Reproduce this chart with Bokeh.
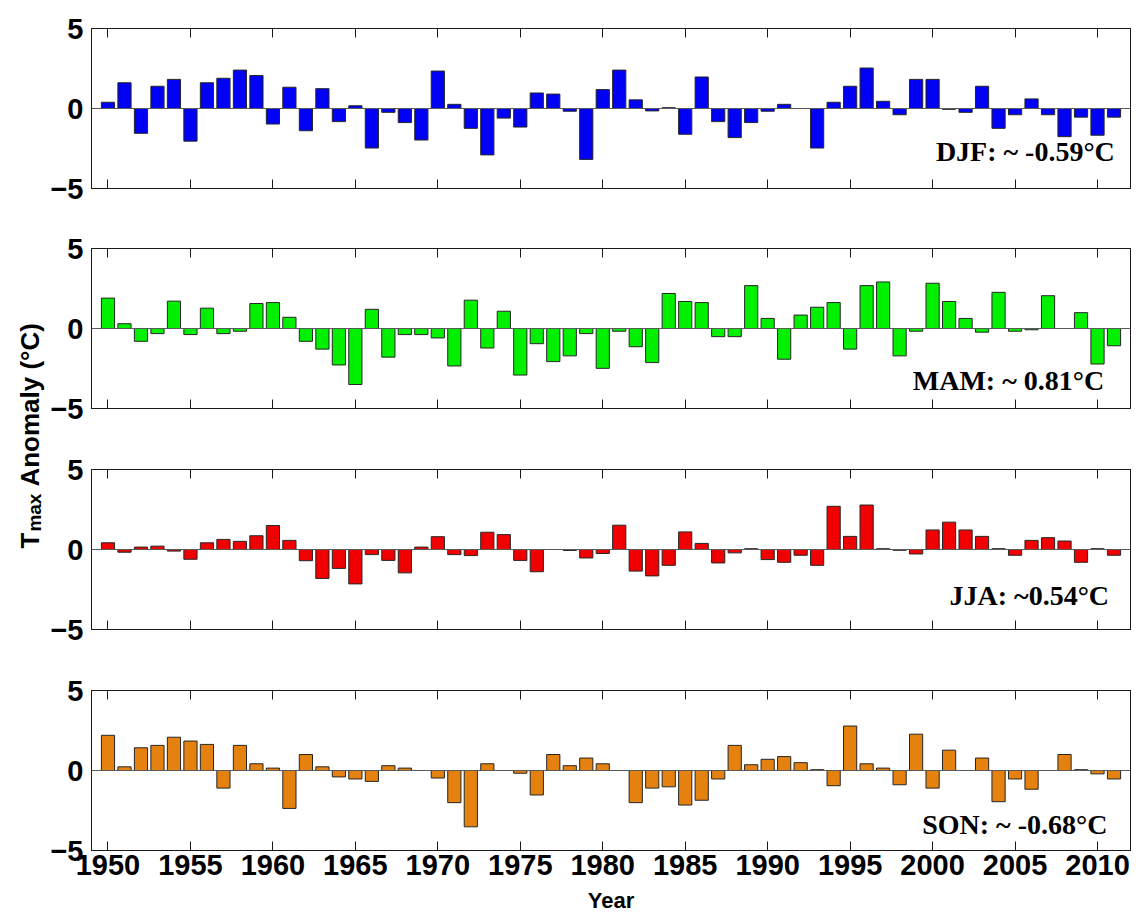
import math
from bokeh.plotting import figure
from bokeh.models import Range1d, Span, Label, LinearAxis, FixedTicker
from bokeh.layouts import row, column
from bokeh.embed import file_html
from bokeh.resources import INLINE

# ---- data: seasonal Tmax anomalies (°C), 1950-2011 ----
years = list(range(1950, 2012))

djf = [0.39, 1.61, -1.55, 1.39, 1.82, -2.04, 1.61, 1.89, 2.40, 2.06,
       -0.97, 1.33, -1.39, 1.24, -0.82, 0.17, -2.47, -0.24, -0.88, -1.97,
       2.34, 0.26, -1.24, -2.90, -0.60, -1.16, 0.97, 0.90, -0.17, -3.18,
       1.18, 2.40, 0.54, -0.15, 0.05, -1.61, 1.97, -0.82, -1.82, -0.88,
       -0.17, 0.26, 0.00, -2.47, 0.39, 1.39, 2.53, 0.45, -0.39, 1.82,
       1.82, -0.05, -0.24, 1.39, -1.24, -0.39, 0.60, -0.39, -1.76, -0.54,
       -1.67, -0.54]

mam = [1.90, 0.30, -0.80, -0.32, 1.71, -0.38, 1.27, -0.32, -0.17, 1.56,
       1.62, 0.70, -0.80, -1.29, -2.28, -3.50, 1.20, -1.79, -0.38, -0.38,
       -0.59, -2.34, 1.77, -1.22, 1.08, -2.91, -0.95, -2.07, -1.71, -0.32,
       -2.49, -0.17, -1.14, -2.13, 2.19, 1.69, 1.62, -0.51, -0.51, 2.68,
       0.63, -1.92, 0.84, 1.33, 1.62, -1.29, 2.68, 2.91, -1.71, -0.17,
       2.83, 1.69, 0.63, -0.23, 2.26, -0.17, -0.08, 2.05, 0.00, 0.99,
       -2.22, -1.08]

jja = [0.42, -0.17, 0.15, 0.21, -0.10, -0.61, 0.42, 0.63, 0.51, 0.86,
       1.50, 0.57, -0.70, -1.81, -1.18, -2.15, -0.32, -0.68, -1.46, 0.15,
       0.80, -0.32, -0.38, 1.08, 0.93, -0.68, -1.39, 0.00, -0.06, -0.53,
       -0.25, 1.52, -1.35, -1.65, -0.99, 1.10, 0.38, -0.84, -0.21, 0.05,
       -0.63, -0.80, -0.36, -0.99, 2.70, 0.82, 2.78, 0.05, -0.05, -0.28,
       1.22, 1.71, 1.22, 0.82, 0.05, -0.36, 0.57, 0.74, 0.53, -0.80,
       0.05, -0.36]

son = [2.20, 0.23, 1.42, 1.57, 2.08, 1.84, 1.63, -1.10, 1.57, 0.42,
       0.15, -2.37, 1.00, 0.23, -0.40, -0.53, -0.68, 0.30, 0.15, 0.00,
       -0.47, -2.01, -3.52, 0.42, 0.00, -0.17, -1.53, 1.00, 0.30, 0.78,
       0.42, 0.00, -2.01, -1.10, -1.02, -2.16, -1.86, -0.53, 1.57, 0.36,
       0.70, 0.87, 0.49, 0.05, -0.95, 2.78, 0.42, 0.15, -0.89, 2.27,
       -1.10, 1.27, 0.00, 0.78, -1.95, -0.53, -1.17, 0.00, 1.00, 0.05,
       -0.21, -0.53]

season_notes = ["DJF: ~ -0.59°C", "MAM: ~ 0.81°C", "JJA: ~0.54°C", "SON: ~ -0.68°C"]
year_ticks = list(range(1950, 2011, 5))
anomaly_ticks = [-5, 0, 5]

# ---- styling ----
bar_colors = ["#0000F5", "#00F000", "#F00000", "#E5820F"]
note_pos = [(2011.05, -2.68), (2010.4, -3.27), (2010.7, -2.85), (2010.6, -3.36)]
SANS = "Liberation Sans"
SERIF = "Liberation Serif"
AX = "#1a1a1a"

LABEL_W = 46
FRAME_W, FRAME_H = 1039, 160
LEFT, RIGHT = 91 - LABEL_W, 6
borders = [(28, 32), (28, 33), (28, 32), (29, 66)]


def style_axis(ax, labels):
    ax.axis_line_color = AX
    ax.major_tick_line_color = AX
    ax.major_tick_in = 9
    ax.major_tick_out = 0
    ax.minor_tick_line_color = None
    if labels:
        ax.major_label_text_font = SANS
        ax.major_label_text_font_style = "bold"
        ax.major_label_text_font_size = "29px"
        ax.major_label_text_color = "black"
    else:
        ax.major_label_text_color = None
        ax.major_label_standoff = 0


def make_panel(values, color, note, pos, top, bottom, show_years):
    p = figure(frame_width=FRAME_W, frame_height=FRAME_H,
               x_range=Range1d(1949, 2012), y_range=Range1d(-5, 5),
               x_axis_location=None, y_axis_location=None,
               min_border_left=LEFT, min_border_right=RIGHT,
               min_border_top=top, min_border_bottom=bottom,
               output_backend="svg", toolbar_location=None)
    p.grid.visible = False
    p.outline_line_color = AX
    p.background_fill_color = "white"
    p.border_fill_color = "white"

    yt = FixedTicker(ticks=anomaly_ticks)
    xt = FixedTicker(ticks=year_ticks)

    left = LinearAxis(ticker=yt)
    style_axis(left, True)
    left.major_label_standoff = 8
    p.add_layout(left, "left")

    right = LinearAxis(ticker=yt)
    style_axis(right, False)
    p.add_layout(right, "right")

    above = LinearAxis(ticker=xt)
    style_axis(above, False)
    p.add_layout(above, "above")

    below = LinearAxis(ticker=xt)
    style_axis(below, show_years)
    if show_years:
        below.major_label_standoff = 4
        below.axis_label = "Year"
        below.axis_label_text_font = SANS
        below.axis_label_text_font_style = "bold"
        below.axis_label_text_font_size = "22px"
        below.axis_label_text_color = "black"
        below.axis_label_standoff = 10
    p.add_layout(below, "below")

    p.vbar(x=years, top=values, bottom=0, width=0.8,
           fill_color=color, line_color="#262626", line_width=1)
    p.add_layout(Span(location=0, dimension="width", line_color="#5a5a5a", line_width=1.2))

    p.add_layout(Label(x=pos[0], y=pos[1], text=note, text_align="right",
                       text_baseline="alphabetic", text_font=SERIF,
                       text_font_style="bold", text_font_size="28px",
                       text_color="black"))
    return p


series = [djf, mam, jja, son]
panels = []
for i in range(4):
    panels.append(make_panel(series[i], bar_colors[i], season_notes[i], note_pos[i],
                             borders[i][0], borders[i][1], i == 3))

# ---- shared y-axis title: "T" + subscript "max" + "Anomaly (°C)" ----
TOTAL_H = 916
lab = figure(width=LABEL_W, height=TOTAL_H, x_range=Range1d(0, LABEL_W), y_range=Range1d(0, TOTAL_H),
             x_axis_location=None, y_axis_location=None, min_border=0,
             output_backend="svg", toolbar_location=None)
lab.grid.visible = False
lab.outline_line_color = None

fs_main, fs_sub = 26, 19
y0 = TOTAL_H - 548
w_T = 0.611 * fs_main
w_max = 2.0 * fs_sub
common = dict(angle=math.pi / 2, text_align="left", text_baseline="alphabetic",
              text_font=SANS, text_font_style="bold", text_color="black")
lab.add_layout(Label(x=29, y=y0, text="T", text_font_size=f"{fs_main}px", **common))
lab.add_layout(Label(x=34, y=y0 + w_T + 1, text="max", text_font_size=f"{fs_sub}px", **common))
lab.add_layout(Label(x=29, y=y0 + w_T + w_max + 8, text="Anomaly (°C)",
                     text_font_size=f"{fs_main}px", **common))

layout = row(lab, column(*panels, spacing=0), spacing=0)

with open("out.html", "w") as f:
    f.write(file_html(layout, INLINE))
